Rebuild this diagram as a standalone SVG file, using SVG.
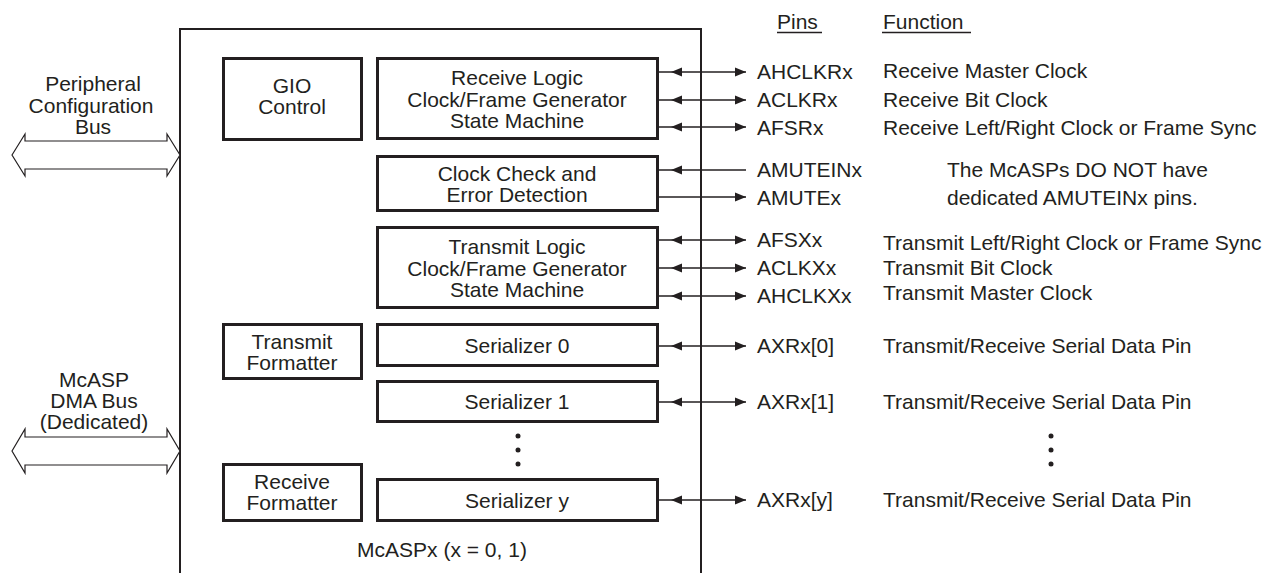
<svg xmlns="http://www.w3.org/2000/svg" width="1270" height="573" viewBox="0 0 1270 573">
<style>
text{font-family:"Liberation Sans",Arial,sans-serif;font-size:21px;fill:#231f20}
.c{text-anchor:middle}
.blk{fill:none;stroke:#231f20;stroke-width:3}
.bus{fill:#fff;stroke:#231f20;stroke-width:1.2}
.ln{stroke:#231f20;stroke-width:1.3;fill:none}
.ul{stroke:#231f20;stroke-width:1.3}
</style>
<defs>
<marker id="hr" markerUnits="userSpaceOnUse" markerWidth="12" markerHeight="10" refX="11" refY="5" orient="auto" viewBox="0 0 12 10"><path d="M0,0.5 L11,5 L0,9.5 Z" fill="#231f20"/></marker>
<marker id="hl" markerUnits="userSpaceOnUse" markerWidth="24" markerHeight="10" refX="23" refY="5" orient="auto-start-reverse" viewBox="0 0 24 10"><path d="M0,0.5 L11,5 L0,9.5 Z" fill="#231f20"/></marker>
</defs>

<g id="mcasp">
<path d="M180,573 V29 H701 V573" fill="none" stroke="#231f20" stroke-width="2"/>
<text class="c" x="442" y="557">McASPx (x = 0, 1)</text>
</g>

<g id="periph-bus">
<polygon class="bus" points="12,155 25,134 25,141 167,141 167,134 180,155 167,176 167,169 25,169 25,176"/>
<text class="c" x="93" y="91">Peripheral</text>
<text class="c" x="91" y="113">Configuration</text>
<text class="c" x="93" y="134">Bus</text>
</g>

<g id="dma-bus">
<polygon class="bus" points="12,451 25,429 25,437 167,437 167,429 180,451 167,473 167,465 25,465 25,473"/>
<text class="c" x="94" y="387">McASP</text>
<text class="c" x="94" y="408">DMA Bus</text>
<text class="c" x="94" y="429">(Dedicated)</text>
</g>

<g id="gio">
<rect class="blk" x="223.5" y="58.5" width="138" height="81"/>
<text class="c" x="292" y="93">GIO</text>
<text class="c" x="292" y="114">Control</text>
</g>

<g id="rx-logic">
<rect class="blk" x="377.5" y="58.5" width="280" height="80"/>
<text class="c" x="517" y="85">Receive Logic</text>
<text class="c" x="517" y="107">Clock/Frame Generator</text>
<text class="c" x="517" y="128">State Machine</text>
</g>

<g id="clk-check">
<rect class="blk" x="377.5" y="156.5" width="280" height="54"/>
<text class="c" x="517" y="181">Clock Check and</text>
<text class="c" x="517" y="202">Error Detection</text>
</g>

<g id="tx-logic">
<rect class="blk" x="377.5" y="227.5" width="280" height="80"/>
<text class="c" x="517" y="254">Transmit Logic</text>
<text class="c" x="517" y="276">Clock/Frame Generator</text>
<text class="c" x="517" y="297">State Machine</text>
</g>

<g id="tx-fmt">
<rect class="blk" x="223.5" y="324.5" width="138" height="54"/>
<text class="c" x="292" y="349">Transmit</text>
<text class="c" x="292" y="370">Formatter</text>
</g>

<g id="rx-fmt">
<rect class="blk" x="223.5" y="464.5" width="138" height="56"/>
<text class="c" x="292" y="489">Receive</text>
<text class="c" x="292" y="510">Formatter</text>
</g>

<g id="ser0">
<rect class="blk" x="377.5" y="324.5" width="280" height="41"/>
<text class="c" x="517" y="353">Serializer 0</text>
</g>

<g id="ser1">
<rect class="blk" x="377.5" y="381.5" width="280" height="40"/>
<text class="c" x="517" y="409">Serializer 1</text>
</g>

<g id="sery">
<rect class="blk" x="377.5" y="479.5" width="280" height="41"/>
<text class="c" x="517" y="508">Serializer y</text>
</g>

<g id="dots" fill="#231f20">
<circle cx="518" cy="436" r="2.5"/><circle cx="518" cy="450" r="2.5"/><circle cx="518" cy="464" r="2.5"/>
<circle cx="1051" cy="436" r="2.5"/><circle cx="1051" cy="450" r="2.5"/><circle cx="1051" cy="464" r="2.5"/>
</g>

<g id="connectors">
<line class="ln" x1="659" y1="72" x2="746" y2="72" marker-start="url(#hl)" marker-end="url(#hr)"/>
<line class="ln" x1="659" y1="100" x2="746" y2="100" marker-start="url(#hl)" marker-end="url(#hr)"/>
<line class="ln" x1="659" y1="127" x2="746" y2="127" marker-start="url(#hl)" marker-end="url(#hr)"/>
<line class="ln" x1="659" y1="170" x2="746" y2="170" marker-start="url(#hl)"/>
<line class="ln" x1="659" y1="197" x2="746" y2="197" marker-end="url(#hr)"/>
<line class="ln" x1="659" y1="240" x2="746" y2="240" marker-start="url(#hl)" marker-end="url(#hr)"/>
<line class="ln" x1="659" y1="268" x2="746" y2="268" marker-start="url(#hl)" marker-end="url(#hr)"/>
<line class="ln" x1="659" y1="296" x2="746" y2="296" marker-start="url(#hl)" marker-end="url(#hr)"/>
<line class="ln" x1="659" y1="346" x2="746" y2="346" marker-start="url(#hl)" marker-end="url(#hr)"/>
<line class="ln" x1="659" y1="402" x2="746" y2="402" marker-start="url(#hl)" marker-end="url(#hr)"/>
<line class="ln" x1="659" y1="500" x2="746" y2="500" marker-start="url(#hl)" marker-end="url(#hr)"/>
</g>

<g id="headers">
<text x="777" y="29">Pins</text>
<line class="ul" x1="777" y1="32.5" x2="822" y2="32.5"/>
<text x="883" y="29">Function</text>
<line class="ul" x1="882" y1="32.5" x2="971" y2="32.5"/>
</g>

<g id="pins">
<text x="757" y="79">AHCLKRx</text>
<text x="757" y="107">ACLKRx</text>
<text x="757" y="135">AFSRx</text>
<text x="757" y="177">AMUTEINx</text>
<text x="757" y="205">AMUTEx</text>
<text x="757" y="247">AFSXx</text>
<text x="757" y="275">ACLKXx</text>
<text x="757" y="303">AHCLKXx</text>
<text x="757" y="353">AXRx[0]</text>
<text x="757" y="409">AXRx[1]</text>
<text x="757" y="507">AXRx[y]</text>
</g>

<g id="functions">
<text x="883" y="78">Receive Master Clock</text>
<text x="883" y="107">Receive Bit Clock</text>
<text x="883" y="135">Receive Left/Right Clock or Frame Sync</text>
<text x="947" y="177">The McASPs DO NOT have</text>
<text x="947" y="205">dedicated AMUTEINx pins.</text>
<text x="883" y="250">Transmit Left/Right Clock or Frame Sync</text>
<text x="883" y="275">Transmit Bit Clock</text>
<text x="883" y="300">Transmit Master Clock</text>
<text x="883" y="353">Transmit/Receive Serial Data Pin</text>
<text x="883" y="409">Transmit/Receive Serial Data Pin</text>
<text x="883" y="507">Transmit/Receive Serial Data Pin</text>
</g>
</svg>
